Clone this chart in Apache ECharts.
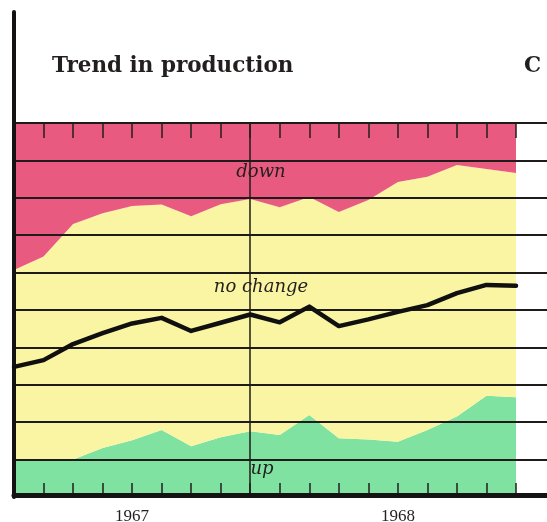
<!DOCTYPE html>
<html>
<head>
<meta charset="utf-8">
<script src="https://cdn.jsdelivr.net/npm/echarts@6/dist/echarts.min.js"></script>
<style>
  html, body { margin: 0; padding: 0; background: #ffffff; }
  #chart { width: 547px; height: 522px; }
</style>
</head>
<body>
<div id="chart"></div>
<script>
// Monthly survey points, May 1967 to October 1968
const months = [
  '1967-05', '1967-06', '1967-07', '1967-08', '1967-09', '1967-10', '1967-11', '1967-12',
  '1968-01', '1968-02', '1968-03', '1968-04', '1968-05', '1968-06', '1968-07', '1968-08',
  '1968-09', '1968-10'
];

// Share of answers (per cent), stacked from the bottom
const upShare       = [9.9, 9.9, 10.0, 13.1, 15.2, 17.9, 13.6, 16.0, 17.6, 16.6, 21.9, 15.7, 15.4, 14.8, 17.9, 21.5, 27.1, 26.7];
const noChangeShare = [50.8, 54.4, 63.0, 62.8, 62.6, 60.3, 61.5, 62.3, 62.1, 60.9, 58.3, 60.5, 64.0, 69.4, 67.7, 67.3, 60.6, 59.9];
const downShare     = [39.3, 35.7, 27.0, 24.1, 22.2, 21.8, 24.9, 21.7, 20.3, 22.5, 19.8, 23.8, 20.6, 15.8, 14.4, 11.2, 12.3, 13.4];

// Trend indicator drawn over the bands
const trendIndex    = [34.8, 36.6, 40.9, 43.8, 46.4, 47.9, 44.4, 46.6, 48.8, 46.7, 50.9, 45.7, 47.5, 49.5, 51.3, 54.5, 56.7, 56.5];

// Year captions and the months they sit under
const yearLabels = { '1967-09': '1967', '1968-06': '1968' };
const yearBreak = '1968-01';

const ink = '#221f1e';
const gridInk = '#1e1b1a';
const serif = '"DejaVu Serif", "Liberation Serif", serif';
const bookSerif = '"Liberation Serif", "DejaVu Serif", serif';

const chart = echarts.init(document.getElementById('chart'), null, { renderer: 'canvas' });

const bandSeries = (name, data, color) => ({
  name,
  type: 'line',
  xAxisIndex: 0,
  yAxisIndex: 0,
  stack: 'share',
  data,
  showSymbol: false,
  symbol: 'none',
  lineStyle: { width: 0 },
  areaStyle: { color, opacity: 1 },
  silent: true,
  z: 2
});

const bandLabel = (text, x, y) => ({
  type: 'text', x, y, z: 20,
  style: {
    text, fontFamily: serif, fontStyle: 'italic', fontSize: 18, fill: ink,
    align: 'center', verticalAlign: 'middle'
  }
});

chart.setOption({
  animation: false,
  backgroundColor: '#ffffff',
  title: [
    {
      text: 'Trend in production',
      left: 47, top: 50,
      textStyle: { fontFamily: serif, fontWeight: 'bold', fontSize: 21.5, color: ink }
    },
    {
      text: 'C',
      left: 519, top: 50,
      textStyle: { fontFamily: serif, fontWeight: 'bold', fontSize: 21.5, color: ink }
    }
  ],
  grid: [
    // plotting area for the bands
    { left: 14, top: 123, width: 502, height: 374, outerBoundsMode: 'none', containLabel: false },
    // ruled lines that run on to the page edge
    { left: 14, top: 123, right: 0, height: 374, outerBoundsMode: 'none', containLabel: false },
    // outer frame
    { left: 14, top: 12, right: 0, height: 485, outerBoundsMode: 'none', containLabel: false }
  ],
  xAxis: [
    {
      type: 'category', gridIndex: 0, data: months, boundaryGap: false,
      axisLine: { show: false },
      axisTick: { show: true, inside: true, length: 14, interval: 0, lineStyle: { color: ink, width: 1.5 } },
      axisLabel: {
        show: true, margin: 11,
        interval: (i, v) => v in yearLabels,
        formatter: v => yearLabels[v] || '',
        fontFamily: bookSerif, fontSize: 17, color: ink
      },
      splitLine: { show: false },
      z: 6
    },
    {
      type: 'category', gridIndex: 0, data: months, boundaryGap: false, position: 'top',
      axisLine: { show: false },
      axisTick: { show: true, inside: true, length: 15, interval: 0, lineStyle: { color: ink, width: 1.5 } },
      axisLabel: { show: false },
      splitLine: { show: false },
      z: 6
    },
    {
      type: 'value', gridIndex: 1, min: 0, max: 1, offset: -2,
      axisLine: { show: true, lineStyle: { color: '#141212', width: 5 } },
      axisTick: { show: false }, axisLabel: { show: false }, splitLine: { show: false },
      z: 7
    },
    {
      type: 'value', gridIndex: 2, min: 0, max: 1, position: 'top',
      axisLine: { show: true, lineStyle: { color: '#4a4644', width: 1.5 } },
      axisTick: { show: false }, axisLabel: { show: false }, splitLine: { show: false }
    }
  ],
  yAxis: [
    {
      type: 'value', gridIndex: 0, min: 0, max: 100, interval: 10,
      axisLine: { show: false }, axisTick: { show: false }, axisLabel: { show: false },
      splitLine: { show: false }
    },
    {
      type: 'value', gridIndex: 1, min: 0, max: 100, interval: 10,
      axisLine: { show: false }, axisTick: { show: false }, axisLabel: { show: false },
      splitLine: { show: true, lineStyle: { color: gridInk, width: 1.8 } },
      z: 5
    },
    {
      type: 'value', gridIndex: 2, min: 0, max: 1,
      axisLine: { show: true, lineStyle: { color: '#141212', width: 4 } },
      axisTick: { show: false }, axisLabel: { show: false }, splitLine: { show: false },
      z: 8
    }
  ],
  series: [
    bandSeries('up', upShare, '#7fe2a1'),
    bandSeries('no change', noChangeShare, '#f9f5a2'),
    Object.assign(bandSeries('down', downShare, '#e95a80'), {
      markLine: {
        silent: true,
        symbol: 'none',
        label: { show: false },
        lineStyle: { color: gridInk, width: 1.5, type: 'solid' },
        data: [{ xAxis: yearBreak }],
        z: 6
      }
    }),
    {
      name: 'trend',
      type: 'line',
      xAxisIndex: 0,
      yAxisIndex: 0,
      data: trendIndex,
      showSymbol: false,
      symbol: 'none',
      lineStyle: { color: '#111010', width: 4.5, join: 'round', cap: 'round' },
      silent: true,
      z: 9
    }
  ],
  graphic: [
    bandLabel('down', 261, 172),
    bandLabel('no change', 261, 287),
    bandLabel('up', 262, 469)
  ]
});
</script>
</body>
</html>
